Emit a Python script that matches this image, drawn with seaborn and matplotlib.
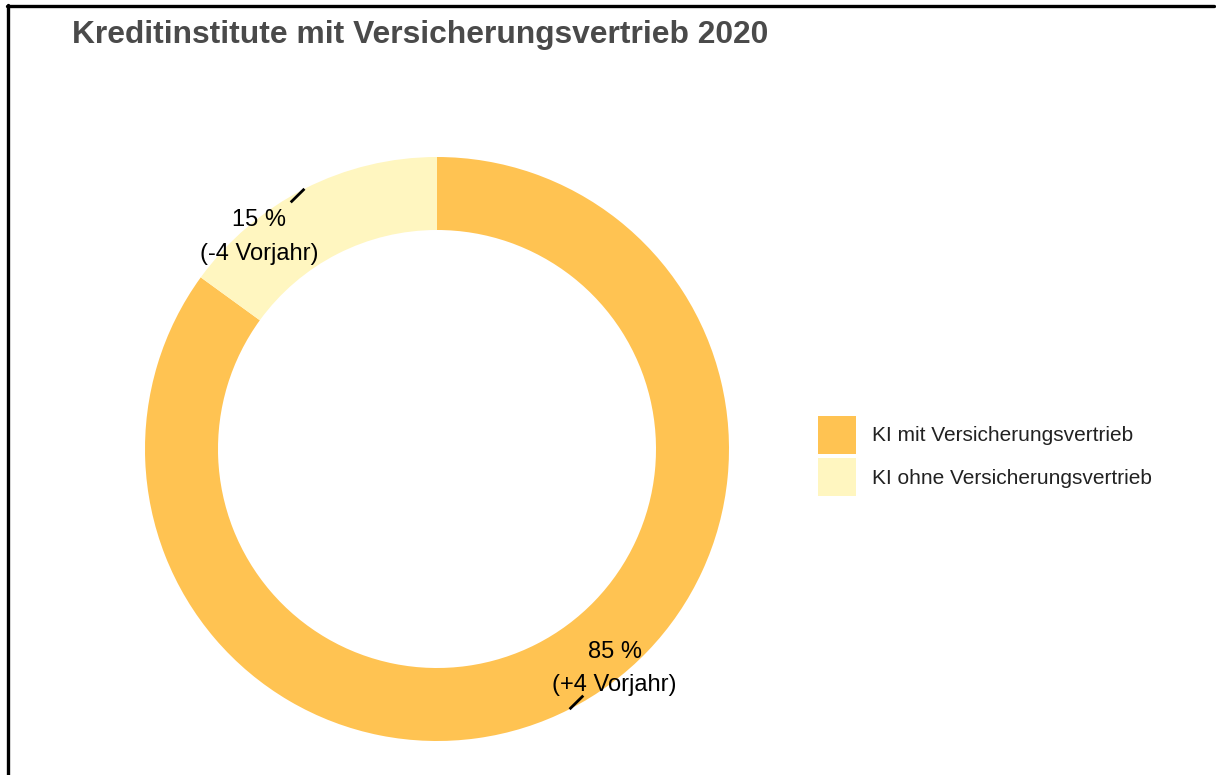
import numpy as np
import matplotlib
matplotlib.use("Agg")
import matplotlib.pyplot as plt
from matplotlib.patches import Patch
from matplotlib.lines import Line2D
import seaborn as sns

title = "Kreditinstitute mit Versicherungsvertrieb 2020"
categories = ["KI mit Versicherungsvertrieb", "KI ohne Versicherungsvertrieb"]
shares = [85, 15]
changes = [4, -4]
colors = ["#FFC352", "#FFF6C0"]

sns.set_theme(style="white")
plt.rcParams["font.family"] = ["Liberation Sans", "DejaVu Sans"]

W, H = 1216, 775
fig = plt.figure(figsize=(W / 100, H / 100), dpi=100)
fig.patch.set_facecolor("white")

# axes: 600x600 px centred on donut centre (437, 449), outer radius 292 px
R = 292.0
cx, cy = 437, 449
half = 300
ax = fig.add_axes([(cx - half) / W, (H - (cy + half)) / H, 2 * half / W, 2 * half / H])
ax.pie(shares, colors=colors, startangle=90, counterclock=False, radius=1.0,
       wedgeprops=dict(width=0.25, edgecolor="none", linewidth=0))
lim = half / R
ax.set_xlim(-lim, lim)
ax.set_ylim(-lim, lim)
ax.set_aspect("equal")
ax.axis("off")

# labels with short leader lines
total = sum(shares)
start = 0.0
for s, ch in zip(shares, changes):
    mid = start + s / total * 360 / 2
    start += s / total * 360
    th = np.deg2rad(mid)
    px, py = np.sin(th), np.cos(th)
    tl = np.deg2rad(mid - 12.5)
    lx, ly = 0.957 * np.sin(tl), 0.957 * np.cos(tl)
    d = np.array([lx - px, ly - py])
    d = d / np.linalg.norm(d) * 0.066
    ax.plot([px, px + d[0]], [py, py + d[1]], color="black", lw=2, solid_capstyle="butt")
    sign = "+" if ch > 0 else ""
    ax.text(lx, ly - 0.013, f"{s} %\n({sign}{ch} Vorjahr)", ha="center", va="center",
            fontsize=17, color="black", linespacing=1.67)

# title
fig.text(72 / W, 1 - 20 / H, title, ha="left", va="top", fontsize=22.9,
         fontweight="bold", color="#4a4a4a")

# legend
handles = [Patch(facecolor=c, edgecolor="none") for c in colors]
fs = 15
fspx = fs * 100 / 72
hh = (38 / fspx - 0.245) / 0.65
leg = fig.legend(handles, categories, loc="upper left",
                 bbox_to_anchor=(818 / W, 1 - 416 / H), bbox_transform=fig.transFigure,
                 frameon=False, fontsize=fs, borderpad=0, borderaxespad=0,
                 handlelength=38 / fspx, handleheight=hh, handletextpad=0.75,
                 labelspacing=0.2)
for t in leg.get_texts():
    t.set_color("#222222")

# screenshot frame (top and left edges)
fig.add_artist(Line2D([8 / W, 8 / W], [0, 1 - 5 / H], color="black", lw=2.4,
                      transform=fig.transFigure))
fig.add_artist(Line2D([7 / W, 1214 / W], [1 - 6 / H, 1 - 6 / H], color="black", lw=2.4,
                      transform=fig.transFigure))

fig.savefig("out.png", dpi=100, facecolor="white")
